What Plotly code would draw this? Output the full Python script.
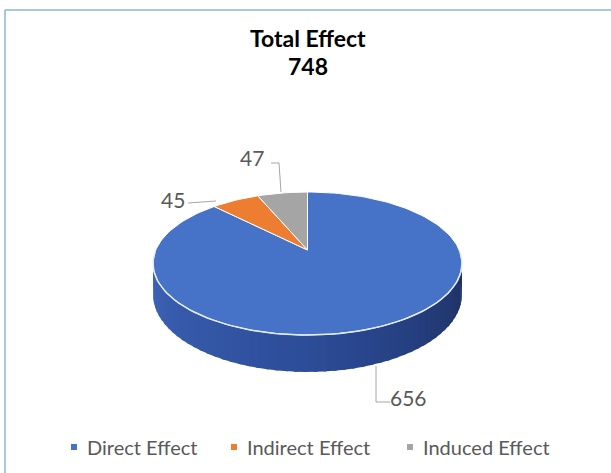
import math
import plotly.graph_objects as go

# ---- data ----
categories = ["Direct Effect", "Indirect Effect", "Induced Effect"]
values = [656, 45, 47]
colors = ["#4673C8", "#ED7D31", "#A5A5A5"]
title_text = "Total Effect"
total_value = 748

W, H = 611, 473
FONT = "Lato"

# ---- 3D pie geometry (perspective projection of a disc) ----
CX, CY = 307.5, 250.0
K = 0.1888          # perspective strength
T = 68.95           # vertical radius factor
S = 151.7           # horizontal radius factor
DEPTH = 30.0        # thickness


def proj(theta_deg, h=0.0):
    th = math.radians(theta_deg)
    X, Z = math.sin(th), math.cos(th)
    w = 1 + K * Z
    return CX + S * X / w, CY - T * Z / w + h / w


def mix(c1, c2, f):
    a = [int(c1[i:i + 2], 16) for i in (1, 3, 5)]
    b = [int(c2[i:i + 2], 16) for i in (1, 3, 5)]
    return "#" + "".join(f"{round(a[j] + (b[j] - a[j]) * f):02x}" for j in range(3))


fig = go.Figure()

# slice angles (clockwise from top)
total = sum(values)
bounds = []
acc = 0.0
for v in values:
    a0 = acc / total * 360
    acc += v
    a1 = acc / total * 360
    bounds.append((a0, a1))

# ---- side wall (front half), shaded per segment ----
side_light = "#4067bc"
side_mid = "#2c4c98"
side_dark = "#1a2b58"
NSEG = 60
for i in range(NSEG):
    a0 = 90 + 180 * i / NSEG
    a1 = 90 + 180 * (i + 1) / NSEG + 1.2
    mid = (a0 + a1) / 2
    idx = next((j for j, (b0, b1) in enumerate(bounds) if b0 <= mid <= b1), 0)
    f = (270 - mid) / 180  # 1 at right side, 0 at left side
    f = max(0.0, min(1.0, f))
    if idx == 0:
        col = mix(side_light, side_mid, f * 2) if f < 0.5 else mix(side_mid, side_dark, (f - 0.5) * 2)
    else:
        col = colors[idx]
    pts_top = [proj(a0 + (a1 - a0) * s / 3) for s in range(4)]
    pts_bot = [proj(a1 - (a1 - a0) * s / 3, DEPTH) for s in range(4)]
    pts = pts_top + pts_bot + [pts_top[0]]
    fig.add_trace(go.Scatter(
        x=[p[0] for p in pts], y=[p[1] for p in pts], mode="lines",
        fill="toself", fillcolor=col, line=dict(width=0),
        hoverinfo="skip", showlegend=False))

# ---- top face slices ----
for j, (a0, a1) in enumerate(bounds):
    n = max(4, int((a1 - a0) / 2))
    pts = [(CX, CY)]
    for s in range(n + 1):
        pts.append(proj(a0 + (a1 - a0) * s / n))
    pts.append((CX, CY))
    fig.add_trace(go.Scatter(
        x=[p[0] for p in pts], y=[p[1] for p in pts], mode="lines",
        fill="toself", fillcolor=colors[j], line=dict(width=1, color="#ffffff"),
        name=categories[j], hoverinfo="name", showlegend=False))

# light rim along the front edge
rim = [proj(92 + 176 * s / 88) for s in range(89)]
fig.add_trace(go.Scatter(
    x=[p[0] for p in rim], y=[p[1] for p in rim], mode="lines",
    line=dict(width=1.5, color="#e4ecf8"), hoverinfo="skip", showlegend=False))

# ---- data labels with leader lines ----
label_pos = [(408, 397), (173, 199), (252, 157)]
leaders = [
    [(376, 366), (376, 402), (390, 402)],
    [(188, 203), (216, 201)],
    [(271, 163), (279, 163), (281, 192)],
]
for j in range(len(values)):
    lp = leaders[j]
    fig.add_trace(go.Scatter(
        x=[p[0] for p in lp], y=[p[1] for p in lp], mode="lines",
        line=dict(width=1, color="#a6a6a6"), hoverinfo="skip", showlegend=False))
    fig.add_annotation(x=label_pos[j][0], y=label_pos[j][1], text=str(values[j]),
                       showarrow=False, xref="x", yref="y",
                       font=dict(family=FONT, size=21, color="#595959"))

# ---- legend (custom) ----
legend_marker_x = [74, 234, 410]
legend_text_x = [85, 245, 421]
LEG_Y = 447
fig.add_trace(go.Scatter(
    x=legend_marker_x, y=[LEG_Y] * 3, mode="markers",
    marker=dict(symbol="square", size=6, color=colors),
    hoverinfo="skip", showlegend=False))
for j, c in enumerate(categories):
    fig.add_annotation(x=legend_text_x[j], y=LEG_Y, text=c, showarrow=False,
                       xanchor="left", xref="x", yref="y",
                       font=dict(family=FONT, size=20, color="#595959"))

# ---- title ----
fig.add_annotation(x=W / 2 + 2, y=38, text=f"<b>{title_text}</b>", showarrow=False,
                   xref="x", yref="y", font=dict(family=FONT, size=23, color="#000000"))
fig.add_annotation(x=W / 2 + 2, y=66, text=f"<b>{total_value}</b>", showarrow=False,
                   xref="x", yref="y", font=dict(family=FONT, size=23, color="#000000"))

# chart border (left and top edges visible in the frame)
fig.add_shape(type="line", x0=5, y0=10, x1=5, y1=H, xref="x", yref="y",
              line=dict(color="#8cb6cc", width=1.5), layer="below")
fig.add_shape(type="line", x0=5, y0=10, x1=W, y1=10, xref="x", yref="y",
              line=dict(color="#8cb6cc", width=1.5), layer="below")

fig.update_layout(
    width=W, height=H, margin=dict(l=0, r=0, t=0, b=0),
    paper_bgcolor="#ffffff", plot_bgcolor="#ffffff",
    xaxis=dict(range=[0, W], visible=False, fixedrange=True),
    yaxis=dict(range=[H, 0], visible=False, fixedrange=True),
    showlegend=False,
)

fig.write_html("out.html",
               config={"displayModeBar": False, "staticPlot": True},
               post_script="document.body.style.margin='0';document.body.style.overflow='hidden';")
